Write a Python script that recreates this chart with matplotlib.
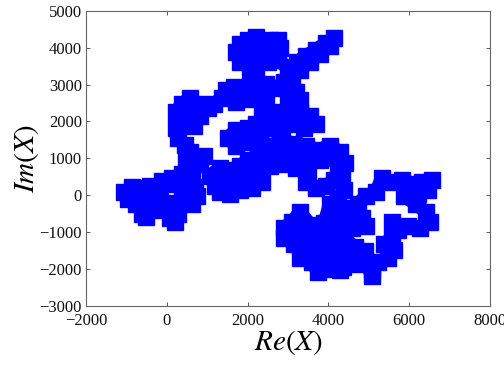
import matplotlib
matplotlib.use('Agg')
import matplotlib.pyplot as plt

# Trajectory of X in the complex plane (waypoints along the walk)
re_x = [-1059, -861, -614, -416, -168, -416, -713, -960, -762, -465, -218, -416, -614, -515, -292, -45,
        129, 79, 203, 277, 203,
        426, 624, 747, 698, 525, 376,
        129, -119, 129,
        376, 525, 723, 921, 822, 624, 475, 574,
        450, 277, 228, 327, 228, 376, 574, 772, 624, 475, 673, 822, 1020, 1168,
        1366, 1465, 1663, 1886, 1935, 1713, 1564,
        1812, 2059, 2208, 2059,
        1812, 1713, 1812, 2010, 2208, 2356, 2554, 2752, 2802, 2604, 2356, 2059, 1960, 2208, 2505, 2752,
        3000, 3222, 3445, 3693, 3940, 4138, 4039, 3792, 3544, 3297, 3099,
        2901, 2703, 2455, 2307, 2455, 2356, 2554, 2851, 3099, 3000, 3198, 3297, 3297, 3544, 3693, 3396,
        3099, 2802, 2505, 2208, 2010,
        1713, 1515, 1713, 2010, 2307, 2554, 2851, 3148, 3445, 3742, 4039, 4287, 4089, 3792, 3445, 3148,
        2851, 2554, 2257, 2010,
        1812, 1564, 1317, 1069, 1193, 1465, 1713, 2010, 2257, 2356, 2109, 1812, 1564, 1317, 1762, 2208,
        2554, 2851, 3198, 3495, 3445, 3693, 3940, 4138, 4237, 4410,
        4336, 4386, 4237, 4039, 3900, 3550, 3297, 3099, 2901, 2901, 3148, 3396, 3643, 3940, 4237, 4534,
        4732, 4930, 5178,
        5327, 5574, 5821, 6069, 6316, 6564, 6460, 6217, 6019, 5871, 6168, 6415, 6514, 6262, 5970, 5722,
        5574,
        5574, 5376, 5623, 5475, 5227, 5079, 5079, 4930, 4782, 4485, 4287,
        3940, 3742, 3594, 3297, 3445, 3742, 4039, 4336, 4584, 4831, 4930,
        4700, 4450, 4200, 4450, 4200, 3900, 3650, 3400, 3250, 3500, 3800, 4100, 4400, 4650, 4450, 4150,
        3850, 4100, 4350, 4650, 4900]
im_x = [89, 225, 198, 252, 62, -19, 8, -100, -236, -209, -182, -371, -507, -588, -398, -236,
        -398, -615, -724, -507, -209,
        -127, -236, -19, 225, 306, 144,
        306, 388, 469,
        577, 794, 957, 1065, 848, 686, 957, 1173,
        1363, 1553, 1824, 2041, 2257, 2474, 2637, 2474, 2257, 1986, 1878, 2149, 2366, 2474,
        2637, 2854, 2935, 2854, 2610, 2528, 2691,
        2799, 2989, 3233, 3450,
        3612, 3883, 4100, 4209, 4290, 4100, 4209, 4209, 3992, 3856, 3883, 3938, 3721, 3612, 3612, 3667,
        3450, 3612, 3775, 3938, 4127, 4263, 4046, 3829, 3612, 3396, 3233,
        3070, 2908, 3016, 2799, 2583, 2366, 2149, 2257, 2366, 2637, 2799, 2583, 2257, 2149, 1932, 1824,
        1932, 1932, 1824, 1932, 1824,
        1770, 1553, 1336, 1444, 1499, 1336, 1499, 1390, 1336, 1228, 1336, 1173, 1011, 957, 1065, 1011,
        1065, 1011, 1065, 957,
        794, 686, 740, 523, 252, 360, 469, 523, 631, 360, 198, 144, 35, 89, 252, 415,
        794, 848, 740, 631, 360, 198, 252, 415, 686, 875,
        469, 144, -73, -236, -750, -800, -453, -724, -886, -1157, -1320, -1211, -995, -832, -669, -453,
        -236, -19, 89,
        469, 360, 415, 306, 360, 415, 144, 35, 144, -19, -236, -453, -724, -886, -832, -940,
        -724,
        -1157, -1320, -1482, -1699, -1808, -2024, -2187, -1808, -1645, -1808, -2024,
        -1916, -2079, -1808, -1699, -1537, -1374, -1211, -1103, -886, -615, -832,
        -600, -350, -550, -800, -1000, -1150, -1050, -900, -1100, -1350, -1450, -1350, -1200, -1400, -1650, -1700,
        -1850, -2000, -1950, -1850, -1500]

xticks = [-2000, 0, 2000, 4000, 6000, 8000]
yticks = [-3000, -2000, -1000, 0, 1000, 2000, 3000, 4000, 5000]

plt.rcParams['font.family'] = ['Liberation Serif', 'DejaVu Serif']
plt.rcParams['mathtext.fontset'] = 'stix'

fig = plt.figure(figsize=(5.04, 3.65), dpi=100)
ax = fig.add_axes([0.1706, 0.1616, 0.8016, 0.8091])

ax.plot(re_x, im_x, color='#0000ff', linewidth=10, marker='s', markersize=11,
        markerfacecolor='#0000ff', markeredgecolor='#0000ff', markeredgewidth=1,
        solid_joinstyle='round', solid_capstyle='round')

ax.set_xlim(-2000, 8000)
ax.set_ylim(-3000, 5000)
ax.set_xticks(xticks)
ax.set_yticks(yticks)
ax.tick_params(direction='in', top=True, right=True, length=3, width=0.6,
               color='#444444', labelsize=12, labelcolor='#111111')
ax.tick_params(axis='x', pad=5)
ax.tick_params(axis='y', pad=3)
for s in ax.spines.values():
    s.set_color('#666666')
    s.set_linewidth(0.8)

ax.set_xlabel(r'$Re(X)$', fontsize=21, labelpad=-1)
ax.set_ylabel(r'$Im(X)$', fontsize=21, labelpad=-1)

fig.savefig('out.png', dpi=100)
